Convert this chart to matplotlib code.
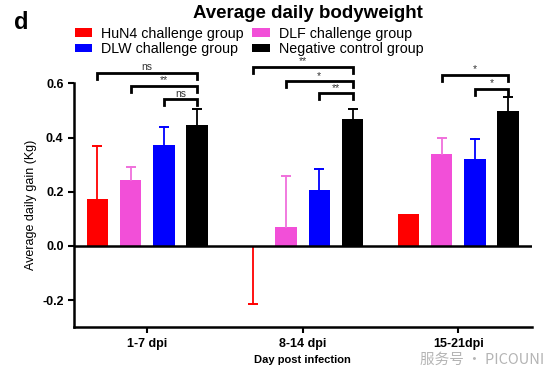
import numpy as np
import matplotlib.pyplot as plt

plt.rcParams['font.family'] = ['Liberation Sans', 'DejaVu Sans']

# datos
periodos = ['1-7 dpi', '8-14 dpi', '15-21dpi']
grupos = ['HuN4 challenge group', 'DLF challenge group',
          'DLW challenge group', 'Negative control group']
colores = ['#ff0000', '#f24fd8', '#0000ff', '#000000']
colores_err = ['#ff0000', '#f070dc', '#0000ff', '#000000']

medias = {
    'HuN4 challenge group': [0.174, -0.005, 0.118],
    'DLF challenge group': [0.244, 0.069, 0.338],
    'DLW challenge group': [0.371, 0.205, 0.321],
    'Negative control group': [0.445, 0.469, 0.499],
}
errores = {
    'HuN4 challenge group': [0.194, 0.21, 0.0],
    'DLF challenge group': [0.047, 0.188, 0.060],
    'DLW challenge group': [0.067, 0.080, 0.074],
    'Negative control group': [0.062, 0.036, 0.051],
}

# comparaciones: (periodo, grupo a, grupo b, etiqueta, altura)
comparaciones = [
    (0, 0, 3, 'ns', 0.639), (0, 1, 3, '**', 0.590), (0, 2, 3, 'ns', 0.541),
    (1, 0, 3, '**', 0.659), (1, 1, 3, '*', 0.607), (1, 2, 3, '**', 0.563),
    (2, 1, 3, '*', 0.632), (2, 2, 3, '*', 0.580),
]

fig = plt.figure(figsize=(5.5, 3.73), dpi=100)
ax = fig.add_axes([0.1345, 0.1225, 0.832, 0.654])

x = np.arange(len(periodos))
ancho = 0.138
paso = 0.214
desplaz = [(i - 1.5) * paso for i in range(4)]

barras = []
for i, g in enumerate(grupos):
    m = np.array(medias[g])
    e = np.array(errores[g])
    xs = x + desplaz[i]
    b = ax.bar(xs, m, ancho, color=colores[i], label=g, zorder=2)
    barras.append(b)
    # barra de error solo hacia fuera
    for xi, mi, ei in zip(xs, m, e):
        if ei <= 0:
            continue
        fin = mi + ei if mi >= 0 else mi - ei
        ax.plot([xi, xi], [mi, fin], color=colores_err[i], lw=1.3, zorder=3)
        ax.plot([xi], [fin], marker='_', ms=7.5, mew=1.4,
                color=colores_err[i], zorder=3)

for p, a, b, txt, h in comparaciones:
    xa = x[p] + desplaz[a]
    xb = x[p] + desplaz[b]
    ax.plot([xa, xa, xb, xb], [h - 0.022, h, h, h - 0.022], color='black',
            lw=2, clip_on=False, solid_joinstyle='miter')
    ax.text((xa + xb) / 2, h + 0.003, txt, ha='center', va='bottom',
            fontsize=7.5, color='#333333')

ax.axhline(0, color='black', lw=1.8, zorder=4)
ax.set_xlim(-0.471, 2.472)
ax.set_ylim(-0.3, 0.6)
ax.set_yticks([-0.2, 0.0, 0.2, 0.4, 0.6])
ax.set_yticklabels(['-0.2', '0.0', '0.2', '0.4', '0.6'],
                   fontsize=9, fontweight='bold')
ax.set_xticks(x)
ax.set_xticklabels(periodos, fontsize=9, fontweight='bold')
ax.spines['top'].set_visible(False)
ax.spines['right'].set_visible(False)
ax.spines['left'].set_linewidth(1.8)
ax.spines['bottom'].set_linewidth(1.8)
ax.tick_params(width=1.5, length=4)
ax.set_ylabel('Average daily gain (Kg)', fontsize=9)
ax.set_xlabel('Day post infection', fontsize=8, fontweight='bold', labelpad=4)

fig.text(0.559, 0.965, 'Average daily bodyweight', ha='center', va='center',
         fontsize=13.5, fontweight='bold')
fig.text(0.025, 0.94, 'd', ha='left', va='center', fontsize=17,
         fontweight='bold')

# orden por columnas para que las filas queden como en la figura
orden = [0, 2, 1, 3]
fig.legend([barras[k] for k in orden], [grupos[k] for k in orden],
           loc='center left', bbox_to_anchor=(0.136, 0.889), ncol=2,
           frameon=False, fontsize=10.3, handlelength=1.2, handleheight=0.5,
           columnspacing=0.6, labelspacing=0.12, handletextpad=0.65,
           borderpad=0, borderaxespad=0)

# marca de agua
fig.text(0.99, 0.036, '服务号 · PICOUNI', ha='right', va='center',
         fontsize=10.5, color='#b4b4b4',
         family=['Noto Sans CJK SC', 'DejaVu Sans'])

plt.savefig('out.png', dpi=100)
